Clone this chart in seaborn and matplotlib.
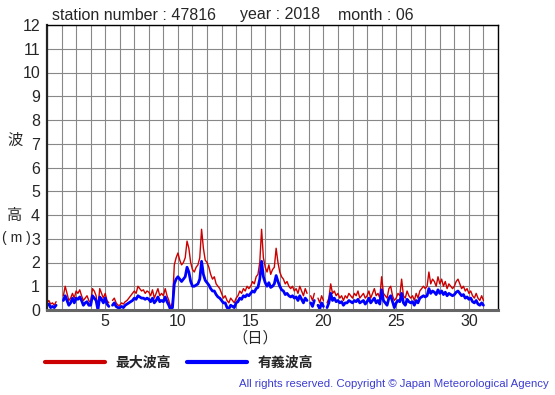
import numpy as np
import pandas as pd
import seaborn as sns
import matplotlib
matplotlib.use("Agg")
import matplotlib.pyplot as plt
from matplotlib.lines import Line2D

# --- Data (3-hourly readings, June 2018, station 47816) ---
nan = np.nan
# max wave height [m], 8 readings per day (00h, 03h, ... 21h)
max_wave = [
    0.3, 0.4, 0.25, 0.3, 0.2, 0.35, nan, nan,   # 1
    nan, 0.6, 1.0, 0.7, 0.4, 0.5, 0.7, 0.5,     # 2
    0.8, 0.7, 0.85, 0.6, 0.4, 0.5, 0.6, 0.4,    # 3
    0.3, 0.9, 0.8, 0.6, 0.1, 0.9, 0.7, 0.5,     # 4
    0.7, 0.4, 0.3, nan, 0.4, 0.5, 0.3, 0.2,     # 5
    0.2, 0.3, 0.25, 0.35, 0.4, 0.5, 0.6, 0.7,   # 6
    0.8, 0.7, 1.0, 0.9, 0.8, 0.85, 0.7, 0.8,    # 7
    0.75, 0.6, 0.85, 0.5, 0.7, 0.9, 0.6, 0.7,   # 8
    0.6, 0.9, 0.6, 0.4, 0.1, 0.3, 1.9, 2.2,     # 9
    2.4, 2.1, 1.9, 2.0, 2.2, 2.9, 2.6, 2.0,     # 10
    1.7, 1.6, 1.8, 1.9, 2.2, 3.4, 2.6, 2.1,     # 11
    2.0, 1.8, 1.5, 1.3, 1.4, 1.1, 1.0, 0.9,     # 12
    0.7, 0.5, 0.6, 0.4, 0.3, 0.5, 0.4, 0.3,     # 13
    0.5, 0.6, 0.8, 0.7, 0.9, 0.8, 1.0, 0.9,     # 14
    1.0, 1.2, 1.1, 1.4, 1.5, 2.0, 3.4, 2.2,     # 15
    1.8, 1.6, 1.9, 1.5, 1.7, 1.8, 2.6, 2.0,     # 16
    1.6, 1.4, 1.3, 1.1, 1.2, 1.0, 0.9, 1.0,     # 17
    0.8, 0.9, 0.7, 1.0, 0.8, 0.6, 0.9, 0.7,     # 18
    nan, 0.6, 0.4, 0.7, nan, 0.5, 0.3, 0.6,     # 19
    0.4, nan, 0.3, 0.5, 1.1, 0.7, 0.8, 0.6,     # 20
    0.7, 0.5, 0.6, 0.4, 0.6, 0.5, 0.7, 0.6,     # 21
    0.5, 0.7, 0.6, 0.8, 0.5, 0.6, 0.7, 0.5,     # 22
    0.6, 0.8, 0.5, 0.7, 0.9, 0.6, 0.7, 0.5,     # 23
    1.4, 0.7, 0.6, 0.5, 0.9, 1.0, 0.6, 0.4,     # 24
    0.5, 0.7, 0.6, 1.3, 0.6, 0.5, 0.8, 0.6,     # 25
    0.5, 0.6, 0.4, 0.7, 0.5, 0.8, 0.9, 1.0,     # 26
    0.9, 1.0, 1.6, 1.1, 1.3, 1.2, 1.0, 1.4,     # 27
    1.1, 1.3, 1.0, 1.2, 0.9, 1.1, 1.0, 0.9,     # 28
    1.0, 1.2, 1.3, 1.1, 0.9, 1.0, 0.8, 0.9,     # 29
    0.7, 0.8, 0.6, 0.5, 0.7, 0.5, 0.4, 0.6,     # 30
    0.4,                                        # 31 00h
]
# significant wave height [m]
sig_wave = [
    0.2, 0.25, 0.1, 0.15, 0.1, 0.2, nan, nan,   # 1
    nan, 0.4, 0.6, 0.4, 0.2, 0.3, 0.5, 0.3,     # 2
    0.5, 0.45, 0.55, 0.4, 0.2, 0.3, 0.35, 0.2,  # 3
    0.2, 0.6, 0.5, 0.4, 0.0, 0.55, 0.45, 0.3,   # 4
    0.5, 0.25, 0.15, nan, 0.2, 0.3, 0.15, 0.1,  # 5
    0.1, 0.15, 0.1, 0.2, 0.25, 0.3, 0.35, 0.4,  # 6
    0.5, 0.45, 0.6, 0.55, 0.5, 0.5, 0.45, 0.5,  # 7
    0.45, 0.35, 0.5, 0.3, 0.4, 0.55, 0.35, 0.4, # 8
    0.35, 0.55, 0.35, 0.2, 0.0, 0.1, 1.1, 1.3,  # 9
    1.4, 1.3, 1.2, 1.3, 1.4, 1.8, 1.6, 1.2,     # 10
    1.0, 1.0, 1.05, 1.1, 1.3, 2.05, 1.5, 1.25,  # 11
    1.15, 1.05, 0.9, 0.8, 0.8, 0.65, 0.55, 0.5, # 12
    0.4, 0.3, 0.3, 0.1, 0.05, 0.2, 0.15, 0.1,   # 13
    0.3, 0.35, 0.5, 0.45, 0.6, 0.55, 0.65, 0.6, # 14
    0.7, 0.8, 0.75, 0.9, 0.95, 1.3, 2.05, 1.4,  # 15
    1.15, 1.0, 1.15, 0.95, 1.0, 1.1, 1.45, 1.2, # 16
    1.0, 0.85, 0.8, 0.65, 0.7, 0.6, 0.55, 0.6,  # 17
    0.5, 0.55, 0.4, 0.6, 0.45, 0.3, 0.5, 0.4,   # 18
    nan, 0.3, 0.15, 0.4, nan, 0.2, 0.05, 0.3,   # 19
    0.15, nan, 0.1, 0.3, 0.7, 0.4, 0.5, 0.35,   # 20
    0.4, 0.3, 0.35, 0.2, 0.3, 0.3, 0.4, 0.35,   # 21
    0.3, 0.4, 0.35, 0.45, 0.3, 0.35, 0.4, 0.25, # 22
    0.35, 0.5, 0.3, 0.4, 0.5, 0.3, 0.4, 0.25,   # 23
    0.85, 0.4, 0.3, 0.2, 0.5, 0.6, 0.35, 0.1,   # 24
    0.3, 0.4, 0.35, 0.7, 0.3, 0.2, 0.45, 0.35,  # 25
    0.3, 0.35, 0.2, 0.4, 0.3, 0.5, 0.55, 0.6,   # 26
    0.55, 0.6, 0.9, 0.7, 0.8, 0.75, 0.65, 0.85, # 27
    0.7, 0.8, 0.65, 0.75, 0.6, 0.7, 0.65, 0.6,  # 28
    0.65, 0.75, 0.8, 0.7, 0.6, 0.65, 0.5, 0.55, # 29
    0.45, 0.5, 0.35, 0.3, 0.4, 0.25, 0.2, 0.3,  # 30
    0.2,                                        # 31 00h
]
hours = np.arange(len(max_wave)) * 3  # hours since June 1 00:00
x_ticks = [5, 10, 15, 20, 25, 30]

RED = "#cc0000"
BLUE = "#0000ff"


def to_frame(values):
    """long-form frame with a segment id so gaps (nan) are not bridged"""
    df = pd.DataFrame({"day": 1 + hours / 24, "height": values})
    df["seg"] = df["height"].isna().cumsum()
    return df.dropna()


sns.set_style("white")
plt.rcParams["font.family"] = ["Liberation Sans", "Noto Sans CJK JP", "DejaVu Sans"]

fig = plt.figure(figsize=(5.55, 3.95), dpi=100)
ax = fig.add_axes([47 / 555, 1 - 310 / 395, 451 / 555, 285 / 395])

sns.lineplot(data=to_frame(max_wave), x="day", y="height", units="seg",
             estimator=None, color=RED, linewidth=1.0, ax=ax)
sns.lineplot(data=to_frame(sig_wave), x="day", y="height", units="seg",
             estimator=None, color=BLUE, linewidth=2.0, ax=ax)

ax.set_xlim(1, 32)
ax.set_ylim(0, 12)
ax.set_xticks(x_ticks)
ax.set_xticks(range(1, 33), minor=True)
ax.set_yticks(range(0, 13))
ax.grid(which="both", color="#888888", linewidth=0.8)
ax.set_axisbelow(True)
ax.set_xlabel("")
ax.set_ylabel("")
ax.tick_params(axis="both", which="both", length=0, labelsize=11.5, pad=3)
ax.tick_params(axis="y", which="major", length=3, pad=2)

for side in ["top", "right"]:
    ax.spines[side].set_color("black")
    ax.spines[side].set_linewidth(1.0)
ax.spines["left"].set_color("#222222")
ax.spines["left"].set_linewidth(1.6)
ax.spines["bottom"].set_color("#666666")
ax.spines["bottom"].set_linewidth(2.2)

# title pieces
fig.text(52 / 555, 1 - 15 / 395, "station number : 47816", fontsize=11.5, va="center")
fig.text(240 / 555, 1 - 15 / 395, "year : 2018", fontsize=11.5, va="center")
fig.text(338 / 555, 1 - 15 / 395, "month : 06", fontsize=11.5, va="center")

# axis labels
fig.text(15 / 555, 1 - 141 / 395, "波", fontsize=11, ha="center", va="center")
fig.text(15 / 555, 1 - 216 / 395, "高", fontsize=11, ha="center", va="center")
fig.text(16 / 555, 1 - 238 / 395, "( m )", fontsize=10, ha="center", va="center")
fig.text(255 / 555, 1 - 338 / 395, "（日）", fontsize=11, ha="center", va="center")

# legend
handles = [Line2D([], [], color=RED, lw=3), Line2D([], [], color=BLUE, lw=3)]
leg = fig.legend(handles, ["最大波高", "有義波高"], ncol=2, frameon=False,
                 loc="center left", bbox_to_anchor=(45 / 555, 1 - 363 / 395),
                 borderpad=0, borderaxespad=0, handlelength=4.3,
                 handletextpad=0.75, columnspacing=1.2,
                 prop={"size": 10, "weight": "bold"})

fig.text(549 / 555, 1 - 384 / 395,
         "All rights reserved. Copyright © Japan Meteorological Agency",
         fontsize=8.2, color="#3c3cd2", ha="right", va="center")

fig.savefig("out.png", dpi=100, facecolor="white")
